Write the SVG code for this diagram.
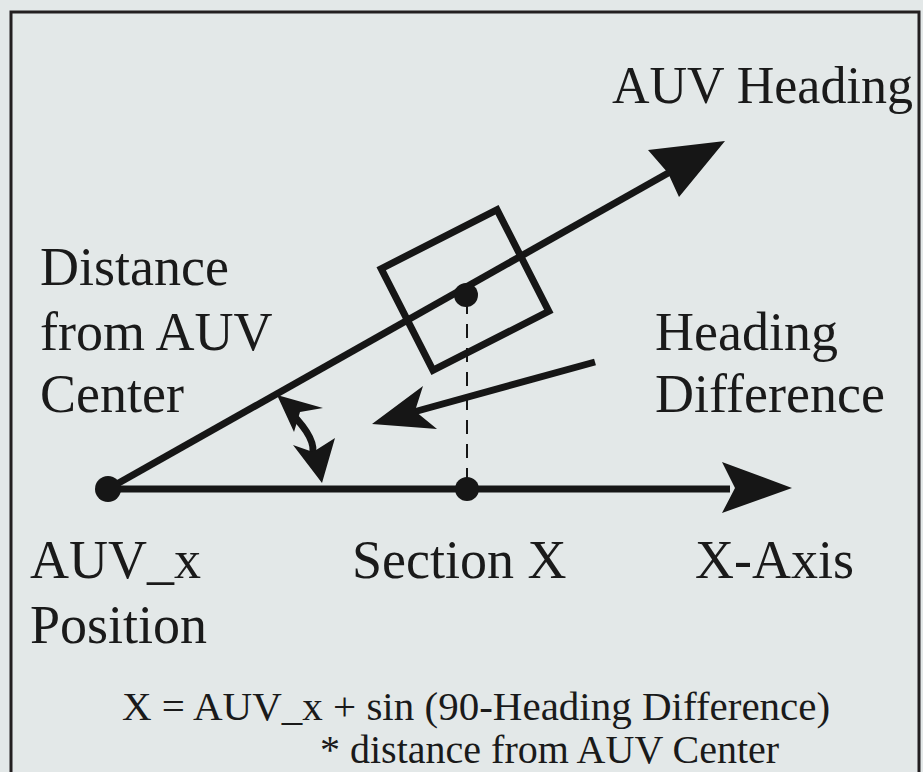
<svg xmlns="http://www.w3.org/2000/svg" width="923" height="772" viewBox="0 0 923 772">
<style>
.t{font-family:"Liberation Serif","Times New Roman",serif;fill:#1a1a1a;font-size:54px}
.f{font-family:"Liberation Serif","Times New Roman",serif;fill:#1a1a1a;font-size:41px}
.ln{stroke:#161616;stroke-width:7;fill:none}
.hd{fill:#161616}
</style>
<rect width="923" height="772" fill="#e3e8e8"/>
<rect x="11" y="12" width="908" height="800" fill="none" stroke="#231f20" stroke-width="3"/>
<g id="connectors">
<line class="ln" x1="108" y1="489" x2="730" y2="489"/>
<polygon class="hd" points="792,488 722,462 735,488 722,513"/>
<line class="ln" x1="108" y1="489" x2="670" y2="172"/>
<polygon class="hd" points="725,141 648,150 668,173 679,197"/>
<line x1="467" y1="300" x2="467" y2="480" stroke="#161616" stroke-width="2" stroke-dasharray="14,10"/>
<line class="ln" x1="595" y1="362" x2="410" y2="413" stroke-width="5"/>
<polygon class="hd" points="372,424 423,386 415,411 437,429"/>
<path class="ln" d="M290,412 Q318,440 312,456" stroke-width="6"/>
<polygon class="hd" points="277,395 323,408 300,412 294,432"/>
<polygon class="hd" points="322,483 293,445 313,452 335,438"/>
</g>
<g id="auv-body">
<rect x="-65" y="-57" width="130" height="114" transform="translate(465,290) rotate(-27)" fill="none" stroke="#161616" stroke-width="7"/>
</g>
<g id="auv-x-position-dot"><circle cx="108" cy="489" r="13" fill="#161616"/></g>
<g id="auv-center-dot"><circle cx="466" cy="295" r="12" fill="#161616"/></g>
<g id="section-x-dot"><circle cx="467" cy="489" r="12" fill="#161616"/></g>
<g id="labels">
<text class="t" x="612" y="103" style="font-size:52px">AUV Heading</text>
<text class="t" x="40" y="285">Distance</text>
<text class="t" x="40" y="350">from AUV</text>
<text class="t" x="40" y="412">Center</text>
<text class="t" x="655" y="350">Heading</text>
<text class="t" x="655" y="412">Difference</text>
<text class="t" x="30" y="578">AUV_x</text>
<text class="t" x="30" y="643">Position</text>
<text class="t" x="352" y="578">Section X</text>
<text class="t" x="695" y="578">X-Axis</text>
<text class="f" x="122" y="720">X = AUV_x + sin (90-Heading Difference)</text>
<text class="f" x="320" y="763" style="font-size:40px">* distance from AUV Center</text>
</g>
</svg>
